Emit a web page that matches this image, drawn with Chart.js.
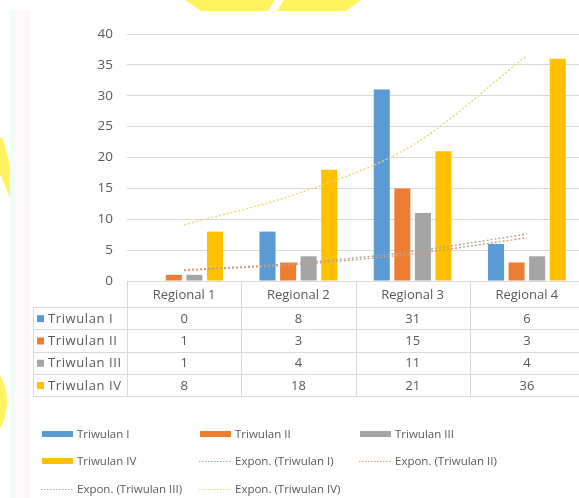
<!DOCTYPE html>
<html>
<head>
<meta charset="utf-8">
<script src="https://cdn.jsdelivr.net/npm/chart.js@4.4.1/dist/chart.umd.min.js"></script>
<style>
body{margin:0;background:#fff;overflow:hidden;width:579px;height:498px;position:relative}
#wrap{position:absolute;left:0;top:0;width:590px;height:498px}
.deco{position:absolute;background:#fff45e}
</style>
</head>
<body>
<div style="position:absolute;left:10px;top:10px;width:5px;height:488px;background:#f1fbf8"></div>
<div style="position:absolute;left:15px;top:10px;width:16px;height:488px;background:#fdf9fb"></div>
<div id="wrap"><canvas id="triwulanChart" width="590" height="498"></canvas></div>
<div class="deco" style="left:185px;top:0;width:90px;height:11px;clip-path:polygon(0 0,100% 0,92% 100%,18% 100%)"></div>
<div class="deco" style="left:277px;top:0;width:84px;height:11px;clip-path:polygon(8% 0,100% 0,82% 100%,0 100%)"></div>
<div class="deco" style="left:0;top:138px;width:10px;height:60px;clip-path:polygon(0 0,25% 0,100% 45%,100% 100%,0 60%)"></div>
<div style="position:absolute;left:-47px;top:362px;width:40px;height:66px;border:7px solid #fff45e;border-radius:50%"></div>
<script>
var regions = ['Regional 1', 'Regional 2', 'Regional 3', 'Regional 4'];
var triwulan1 = [0, 8, 31, 6];
var triwulan2 = [1, 3, 15, 3];
var triwulan3 = [1, 4, 11, 4];
var triwulan4 = [8, 18, 21, 36];
// trend lines (Triwulan I has a 0, so no curve shows)
var exponTw1 = [];
var exponTw2 = [1.7, 2.7, 4.4, 7.0];
var exponTw3 = [1.8, 2.9, 4.8, 7.6];
var exponTw4 = [9.1, 14.2, 22.0, 36.5];
var yMax = 40, yStep = 5;

var txtColor = '#595959';
var lineColor = '#d9d9d9';
var fontName = '"Open Sans"';

function barSet(label, data, color) {
    return { type: 'bar', label: label, data: data, backgroundColor: color, order: 2,
             categoryPercentage: 0.72, barPercentage: 0.78 };
}
function trendSet(label, data, color) {
    return { type: 'line', label: label, data: data, borderColor: color, borderWidth: 1.4,
             borderDash: [2, 2], pointRadius: 0, fill: false, order: 1,
             cubicInterpolationMode: 'monotone' };
}

var dataTable = {
    id: 'dataTable',
    afterDraw: function(chart) {
        var ctx = chart.ctx, area = chart.chartArea, x = chart.scales.x;
        var half = (area.right - area.left) / regions.length / 2;
        var bars = chart.data.datasets.filter(d => d.type === 'bar');
        var top = area.bottom, headH = 26, rowH = 22.3, leftX = 33;
        var bottom = top + headH + rowH * bars.length;
        ctx.save();
        ctx.strokeStyle = lineColor;
        ctx.lineWidth = 1;
        ctx.beginPath();
        ctx.moveTo(area.left, top + 0.5); ctx.lineTo(area.right, top + 0.5);
        for (var r = 0; r <= bars.length; r++) {
            var yy = Math.round(top + headH + r * rowH) + 0.5;
            ctx.moveTo(leftX, yy); ctx.lineTo(area.right, yy);
        }
        ctx.moveTo(leftX + 0.5, top + headH); ctx.lineTo(leftX + 0.5, bottom);
        for (var i = 0; i <= regions.length; i++) {
            var xx = Math.round(area.left + i * half * 2) + 0.5;
            ctx.moveTo(xx, top); ctx.lineTo(xx, bottom);
        }
        ctx.stroke();

        ctx.fillStyle = txtColor;
        ctx.font = '13px ' + fontName;
        ctx.textBaseline = 'middle';
        ctx.textAlign = 'center';
        regions.forEach(function(name, i) {
            ctx.fillText(name, x.getPixelForValue(i), top + headH / 2 + 1);
        });
        bars.forEach(function(ds, r) {
            var cy = top + headH + r * rowH + rowH / 2 + 1;
            ctx.textAlign = 'center';
            ctx.fillStyle = txtColor;
            ctx.letterSpacing = '0px';
            ds.data.forEach(function(v, i) {
                ctx.fillText(String(v), x.getPixelForValue(i), cy);
            });
            ctx.fillStyle = ds.backgroundColor;
            ctx.fillRect(37, cy - 4, 7, 7);
            ctx.fillStyle = txtColor;
            ctx.textAlign = 'left';
            ctx.letterSpacing = '0.6px';
            ctx.fillText(ds.label, 48, cy);
        });
        ctx.restore();
    }
};

var bottomLegend = {
    id: 'bottomLegend',
    afterDraw: function(chart) {
        var ctx = chart.ctx;
        var cols = [42, 200, 360], rows = [434, 461, 489];
        ctx.save();
        ctx.font = '11.5px ' + fontName;
        ctx.textBaseline = 'middle';
        ctx.textAlign = 'left';
        chart.data.datasets.forEach(function(ds, i) {
            var kx = cols[i % 3], ky = rows[Math.floor(i / 3)];
            if (ds.type === 'bar') {
                ctx.fillStyle = ds.backgroundColor;
                ctx.fillRect(kx, ky - 3, 31, 6);
            } else {
                ctx.strokeStyle = ds.borderColor;
                ctx.lineWidth = 1;
                ctx.setLineDash([1.5, 1.5]);
                ctx.beginPath();
                ctx.moveTo(kx - 1, ky + 0.5); ctx.lineTo(kx + 32, ky + 0.5);
                ctx.stroke();
                ctx.setLineDash([]);
            }
            ctx.fillStyle = txtColor;
            ctx.fillText(ds.label, kx + 35, ky + 1);
        });
        ctx.restore();
    }
};

new Chart(
    document.getElementById('triwulanChart'),
    {
        data: {
            labels: regions,
            datasets: [
                barSet('Triwulan I', triwulan1, '#5b9bd5'),
                barSet('Triwulan II', triwulan2, '#ed7d31'),
                barSet('Triwulan III', triwulan3, '#a5a5a5'),
                barSet('Triwulan IV', triwulan4, '#ffc000'),
                trendSet('Expon. (Triwulan I)', exponTw1, '#7fb0de'),
                trendSet('Expon. (Triwulan II)', exponTw2, '#d99a72'),
                trendSet('Expon. (Triwulan III)', exponTw3, '#a8a8a8'),
                trendSet('Expon. (Triwulan IV)', exponTw4, '#e3db72')
            ]
        },
        options: {
            responsive: false,
            animation: false,
            layout: { padding: { top: 34, right: 6, left: 0, bottom: 0 } },
            plugins: { legend: { display: false }, tooltip: { enabled: false } },
            scales: {
                x: {
                    ticks: { display: false },
                    grid: { display: false },
                    border: { display: false },
                    afterFit: function(s) { s.height = 217; }
                },
                y: {
                    min: 0, max: yMax,
                    ticks: { stepSize: yStep, padding: 14, color: txtColor, font: { family: 'Open Sans', size: 13.5 } },
                    grid: { color: lineColor, drawTicks: false },
                    border: { display: false },
                    afterFit: function(s) { s.width = 127; }
                }
            }
        },
        plugins: [dataTable, bottomLegend]
    }
);
</script>
</body>
</html>
